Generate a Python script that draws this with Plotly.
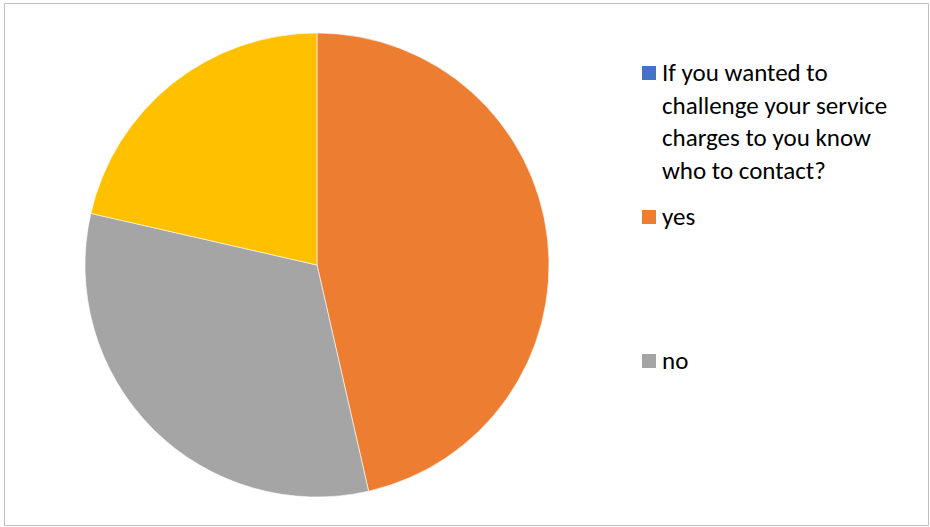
import plotly.graph_objects as go

W, H = 930, 527

# Survey responses
labels = [
    "If you wanted to challenge your service charges to you know who to contact?",
    "yes",
    "no",
    "don't know",
]
legend_text = [
    "If you wanted to<br>challenge your service<br>charges to you know<br>who to contact?",
    "yes",
    "no",
]
values = [0, 13, 9, 6]
colors = ["#4472C4", "#ED7D31", "#A5A5A5", "#FFC000"]

fig = go.Figure()
fig.add_trace(go.Pie(
    labels=labels,
    values=values,
    sort=False,
    direction="clockwise",
    rotation=0,
    marker=dict(colors=colors, line=dict(color="white", width=0.6)),
    textinfo="none",
    hoverinfo="label+value+percent",
    showlegend=False,
    domain=dict(x=[85 / W, 549 / W], y=[1 - 497 / H, 1 - 33 / H]),
))

def px(x):
    return x / W

def py(y):
    return 1 - y / H

# Legend drawn as squares with labels
legend_rows = [73, 217, 361]
fsize = 25
font = dict(family="Carlito, Lato, 'Liberation Sans', sans-serif", size=fsize, color="#000000")
shapes = []
annotations = []
for i, yc in enumerate(legend_rows):
    shapes.append(dict(
        type="rect", xref="paper", yref="paper",
        x0=px(642), x1=px(656), y0=py(yc + 7), y1=py(yc - 7),
        fillcolor=colors[i], line=dict(width=0),
    ))
    annotations.append(dict(
        xref="paper", yref="paper", x=px(660), y=py(yc - 0.73 * fsize),
        xanchor="left", yanchor="top", align="left",
        text=legend_text[i], showarrow=False, font=font,
    ))

# Chart frame
shapes.append(dict(
    type="rect", xref="paper", yref="paper",
    x0=px(4.5), x1=px(928.5), y0=py(525.5), y1=py(3.5),
    line=dict(color="#BFBFBF", width=1), fillcolor="rgba(0,0,0,0)",
))

fig.update_layout(
    width=W, height=H,
    margin=dict(l=0, r=0, t=0, b=0),
    paper_bgcolor="white",
    plot_bgcolor="white",
    shapes=shapes,
    annotations=annotations,
)

fig.write_html("out.html")
